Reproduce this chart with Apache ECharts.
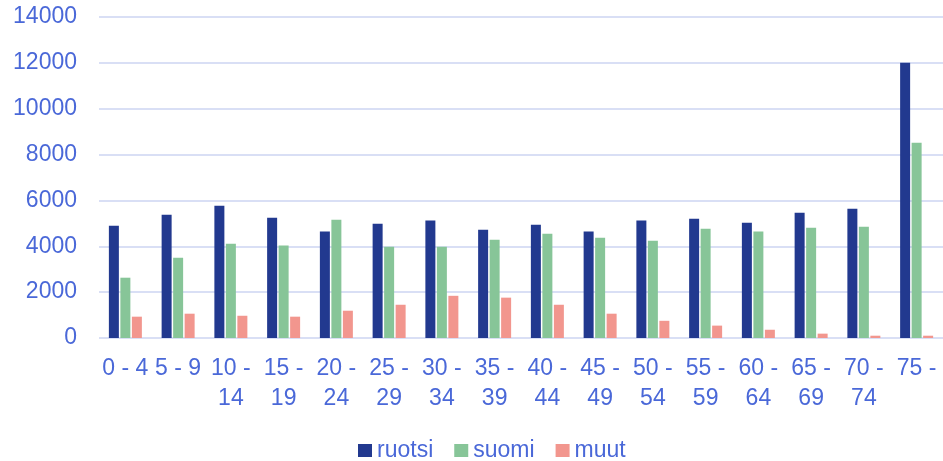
<!DOCTYPE html>
<html>
<head>
<meta charset="utf-8">
<script src="https://cdn.jsdelivr.net/npm/echarts@6/dist/echarts.min.js"></script>
<style>
html,body{margin:0;padding:0;background:#fff;}
#c{width:943px;height:461px;}
</style>
</head>
<body>
<div id="c"></div>
<script>
const categories = ["0 - 4","5 - 9","10 -\n14","15 -\n19","20 -\n24","25 -\n29","30 -\n34","35 -\n39","40 -\n44","45 -\n49","50 -\n54","55 -\n59","60 -\n64","65 -\n69","70 -\n74","75 -"];
const ruotsi = [4900,5380,5770,5250,4640,4980,5120,4720,4940,4640,5120,5200,5030,5460,5640,12000];
const suomi  = [2630,3500,4110,4030,5160,3980,3980,4290,4550,4370,4240,4770,4640,4810,4850,8520];
const muut   = [930,1060,970,930,1190,1450,1840,1760,1450,1060,750,540,360,190,100,100];
const yTicks = [0,2000,4000,6000,8000,10000,12000,14000];

const blue = '#4a68d8';
const chart = echarts.init(document.getElementById('c'));
chart.setOption({
  animation:false,
  textStyle:{fontFamily:'"Liberation Sans", Arial, sans-serif'},
  grid:{left:99,top:17,width:848,height:321,containLabel:false},
  legend:{
    data:['ruotsi','suomi','muut'],
    top:434,left:353,
    icon:'rect',itemWidth:14,itemHeight:13,itemGap:21,
    textStyle:{color:blue,fontSize:23}
  },
  xAxis:{
    type:'category',data:categories,
    axisLine:{show:false},axisTick:{show:false},
    axisLabel:{color:blue,fontSize:23,lineHeight:30,margin:16,interval:0}
  },
  yAxis:{
    type:'value',min:yTicks[0],max:yTicks[yTicks.length-1],interval:2000,
    axisLine:{show:false},axisTick:{show:false},
    axisLabel:{color:blue,fontSize:23,margin:22,formatter:function(v){return String(v);}},
    splitLine:{lineStyle:{color:'#d9dff5',width:2}}
  },
  series:[
    {name:'ruotsi',type:'bar',data:ruotsi,barWidth:10,barGap:'15%',itemStyle:{color:'#22398f'}},
    {name:'suomi',type:'bar',data:suomi,barWidth:10,barGap:'15%',itemStyle:{color:'#87c598'}},
    {name:'muut',type:'bar',data:muut,barWidth:10,barGap:'15%',itemStyle:{color:'#f2968e'}}
  ]
});
</script>
</body>
</html>
